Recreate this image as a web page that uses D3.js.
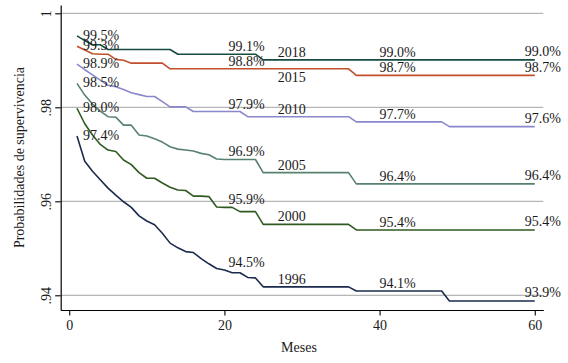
<!DOCTYPE html>
<html>
<head>
    <meta charset="utf-8">
    <title>Probabilidades de supervivencia</title>
    <script src="https://d3js.org/d3.v7.min.js"></script>
    <style>
        body { margin: 0; background: #fff; }
        text { font-family: "Liberation Serif", "DejaVu Serif", serif; fill: #1a1a1a; }
    </style>
</head>
<body>
    <div id="chart"></div>

    <script>
        // data: monthly survival probabilities, months 1..60
        var months = d3.range(1, 61);
        var cohorts = ["2018", "2015", "2010", "2005", "2000", "1996"];
        var colors = ["#174b40", "#c24f2b", "#8a88cc", "#58826f", "#2f5a20", "#1b2b4d"];

        var s2018 = [.9952, .9942, .9933, .9933, .9923, .9923, .9923, .9923, .9923, .9923,
                     .9923, .9923, .9923, .9913, .9913, .9913, .9913, .9913, .9913, .9913,
                     .9913, .9913, .9913, .9913, .9901, .9901, .9901, .9901, .9901, .9901,
                     .9901, .9901, .9901, .9901, .9901, .9901, .9901, .9901, .9901, .9901,
                     .9901, .9901, .9901, .9901, .9901, .9901, .9901, .9901, .9901, .9901,
                     .9901, .9901, .9901, .9901, .9901, .9901, .9901, .9901, .9901, .9901];
        var s2015 = [.9930, .9922, .9914, .9913, .9913, .9902, .9900, .9894, .9894, .9894,
                     .9894, .9894, .9882, .9882, .9882, .9882, .9882, .9882, .9882, .9882,
                     .9882, .9882, .9882, .9882, .9882, .9882, .9882, .9882, .9882, .9882,
                     .9882, .9882, .9882, .9882, .9882, .9882, .9868, .9868, .9868, .9868,
                     .9868, .9868, .9868, .9868, .9868, .9868, .9868, .9868, .9868, .9868,
                     .9868, .9868, .9868, .9868, .9868, .9868, .9868, .9868, .9868, .9868];
        var s2010 = [.9892, .9880, .9869, .9858, .9847, .9844, .9838, .9831, .9827, .9823,
                     .9823, .9812, .9801, .9801, .9801, .9791, .9791, .9791, .9791, .9791,
                     .9791, .9791, .9780, .9780, .9780, .9780, .9780, .9780, .9780, .9780,
                     .9780, .9780, .9780, .9780, .9780, .9780, .9769, .9769, .9769, .9769,
                     .9769, .9769, .9769, .9769, .9769, .9769, .9769, .9769, .9759, .9759,
                     .9759, .9759, .9759, .9759, .9759, .9759, .9759, .9759, .9759, .9759];
        var s2005 = [.9851, .9826, .9807, .9792, .9780, .9779, .9762, .9762, .9741, .9739,
                     .9733, .9726, .9716, .9711, .9709, .9707, .9702, .9699, .9690, .9689,
                     .9689, .9689, .9689, .9689, .9661, .9661, .9661, .9661, .9661, .9661,
                     .9661, .9661, .9661, .9661, .9661, .9661, .9637, .9637, .9637, .9637,
                     .9637, .9637, .9637, .9637, .9637, .9637, .9637, .9637, .9637, .9637,
                     .9637, .9637, .9637, .9637, .9637, .9637, .9637, .9637, .9637, .9637];
        var s2000 = [.9798, .9765, .9741, .9721, .9709, .9706, .9688, .9678, .9661, .9649,
                     .9649, .9639, .9630, .9624, .9623, .9611, .9611, .9610, .9588, .9587,
                     .9587, .9578, .9578, .9578, .9551, .9551, .9551, .9551, .9551, .9551,
                     .9551, .9551, .9551, .9551, .9551, .9551, .9539, .9539, .9539, .9539,
                     .9539, .9539, .9539, .9539, .9539, .9539, .9539, .9539, .9539, .9539,
                     .9539, .9539, .9539, .9539, .9539, .9539, .9539, .9539, .9539, .9539];
        var s1996 = [.9739, .9685, .9664, .9646, .9628, .9613, .9599, .9587, .9569, .9558,
                     .9550, .9532, .9511, .9501, .9493, .9491, .9478, .9467, .9457, .9454,
                     .9448, .9448, .9438, .9437, .9418, .9418, .9418, .9418, .9418, .9418,
                     .9418, .9418, .9418, .9418, .9418, .9418, .9409, .9409, .9409, .9409,
                     .9409, .9409, .9409, .9409, .9409, .9409, .9409, .9409, .9388, .9388,
                     .9388, .9388, .9388, .9388, .9388, .9388, .9388, .9388, .9388, .9388];

        var seriesValues = [s2018, s2015, s2010, s2005, s2000, s1996];
        var labelMonths = [1, 20, 40, 60];   // months that get a % label
        var yearLabelMonth = 27;
        var xTicks = [0, 20, 40, 60];
        var yTicks = [0.94, 0.96, 0.98, 1];

        var width = 568, height = 363;

        var svg = d3.select("#chart")
            .append("svg")
            .attr("width", width)
            .attr("height", height);

        var x = d3.scaleLinear().domain([-1.1, 61.1]).range([60.7, 543.3]);
        var y = d3.scaleLinear().domain([0.93687, 1.00177]).range([310, 5]);

        // gridlines
        svg.append("g")
            .selectAll("line")
            .data(yTicks)
            .enter().append("line")
            .attr("x1", x.range()[0]).attr("x2", x.range()[1])
            .attr("y1", function(d) { return y(d); })
            .attr("y2", function(d) { return y(d); })
            .attr("stroke", "#a3a3a3")
            .attr("stroke-width", 1);

        // lines
        var line = d3.line()
            .x(function(d) { return x(d.m); })
            .y(function(d) { return y(d.v); });

        var series = cohorts.map(function(c, i) {
            return {
                name: c,
                color: colors[i],
                points: months.map(function(m, j) { return { m: m, v: seriesValues[i][j] }; })
            };
        });

        svg.append("g")
            .selectAll("path")
            .data(series)
            .enter().append("path")
            .attr("fill", "none")
            .attr("stroke", function(d) { return d.color; })
            .attr("stroke-width", 1.6)
            .attr("stroke-linejoin", "round")
            .attr("d", function(d) { return line(d.points); });

        // percentage labels
        var fmt = function(v) { return (v * 100).toFixed(1) + "%"; };
        var labelDx = [6, 4, 0, -10];
        var labelDy = [4, -3, -3, -3.5];

        series.forEach(function(s) {
            var g = svg.append("g");
            labelMonths.forEach(function(m, k) {
                var p = s.points[m - 1];
                g.append("text")
                    .attr("x", x(p.m) + labelDx[k])
                    .attr("y", y(p.v) + labelDy[k])
                    .attr("font-size", 14)
                    .text(fmt(p.v));
            });
            var q = s.points[yearLabelMonth - 1];
            g.append("text")
                .attr("x", x(q.m) - 1)
                .attr("y", y(q.v) + (s.name === "2015" ? 13.5 : -3))
                .attr("font-size", 14)
                .text(s.name);
        });

        // axes
        var xAxis = svg.append("g")
            .attr("transform", "translate(0,310)")
            .call(d3.axisBottom(x).tickValues(xTicks).tickSize(5.5).tickSizeOuter(0).tickPadding(4));

        var yAxis = svg.append("g")
            .attr("transform", "translate(60.7,0)")
            .call(d3.axisLeft(y).tickValues(yTicks).tickSize(5.5).tickSizeOuter(0)
                .tickFormat(function(d) { return d === 1 ? "1" : d3.format(".2f")(d).replace(/^0/, ""); }));

        [xAxis, yAxis].forEach(function(a) {
            a.select(".domain").attr("stroke", "#000").attr("stroke-width", 1.2);
            a.selectAll(".tick line").attr("stroke", "#000").attr("stroke-width", 1.1);
            a.selectAll("text").attr("font-size", 14).attr("font-family", null).attr("fill", "#1a1a1a");
        });

        xAxis.selectAll("text").attr("dy", null).attr("y", 20);

        yAxis.selectAll("text")
            .attr("x", null).attr("dy", null)
            .attr("text-anchor", "middle")
            .attr("transform", "translate(-10,0) rotate(-90)");

        // axis titles
        svg.append("text")
            .attr("x", 299)
            .attr("y", 352)
            .attr("text-anchor", "middle")
            .attr("font-size", 14)
            .text("Meses");

        svg.append("text")
            .attr("transform", "translate(24," + ((5 + 310) / 2) + ") rotate(-90)")
            .attr("text-anchor", "middle")
            .attr("font-size", 14)
            .text("Probabilidades de supervivencia");
    </script>
</body>
</html>
